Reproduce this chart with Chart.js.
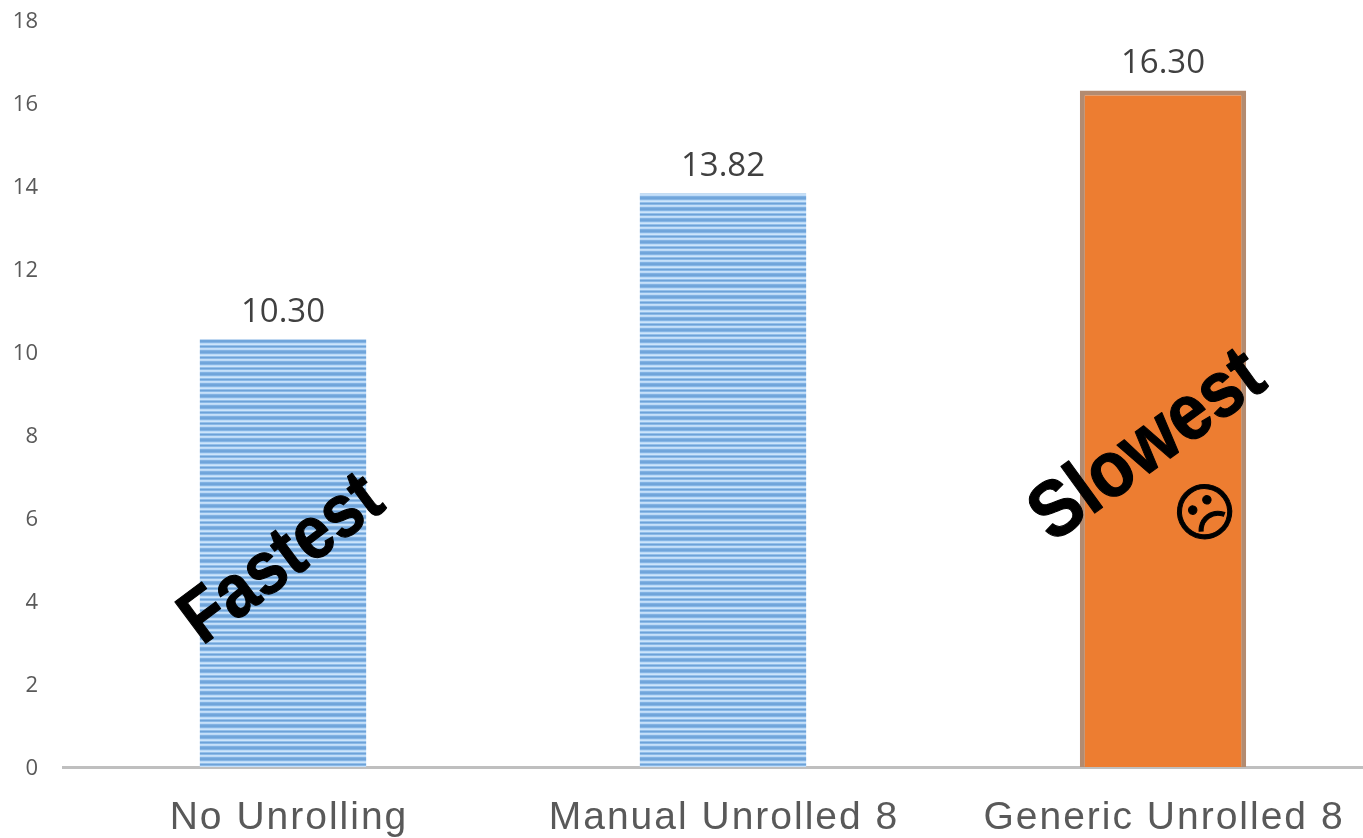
<!DOCTYPE html>
<html>
<head>
<meta charset="utf-8">
<title>Unrolling comparison</title>
<script src="https://cdn.jsdelivr.net/npm/chart.js@4"></script>
<style>
  html, body { margin: 0; padding: 0; background: #fff; overflow: hidden; }
  #wrap { width: 1400px; height: 838px; }
</style>
</head>
<body>
<div id="wrap"><canvas id="chart" width="1400" height="838"></canvas></div>
<script>
const categories = ['No Unrolling', 'Manual Unrolled 8', 'Generic Unrolled 8'];
const times = [10.30, 13.82, 16.30];
const valueLabels = ['10.30', '13.82', '16.30'];

// horizontal stripe fill for the two non-highlighted bars
function stripePattern() {
    const rows = ['#6fa4da', '#85b5e5', '#bbdaf7', '#cde5fb', '#93bfea',
                  '#6da2d8', '#8ab9e7', '#c6e0f9', '#bcdaf7', '#82b2e3', '#71a6db'];
    const tile = document.createElement('canvas');
    tile.width = 4;
    tile.height = rows.length;
    const c = tile.getContext('2d');
    rows.forEach(function(color, i) {
        c.fillStyle = color;
        c.fillRect(0, i, 4, 1);
    });
    return c.createPattern(tile, 'repeat');
}

const stripes = stripePattern();

// value labels, tracked-out category names and the rotated captions
const overlayText = {
    id: 'overlayText',
    afterDatasetsDraw: function(chart) {
        const ctx = chart.ctx;
        const bars = chart.getDatasetMeta(0).data;
        const xScale = chart.scales.x;

        ctx.save();
        ctx.font = '33px "Open Sans"';
        ctx.fillStyle = '#404040';
        ctx.textAlign = 'center';
        ctx.textBaseline = 'middle';
        bars.forEach(function(bar, i) {
            ctx.fillText(valueLabels[i], bar.x, bar.y - 27);
        });
        ctx.restore();

        ctx.save();
        ctx.font = '39px "Liberation Sans"';
        ctx.letterSpacing = '2px';
        ctx.fillStyle = '#595959';
        ctx.textAlign = 'center';
        ctx.textBaseline = 'alphabetic';
        categories.forEach(function(name, i) {
            const nudge = i === 0 ? 6 : 1;
            ctx.fillText(name, xScale.getPixelForValue(i) + nudge, 829);
        });
        ctx.restore();

        drawRotated(ctx, 'Fastest', 295, 577, -36.7, 'bold 66px "Liberation Sans"', 1.14);
        drawRotated(ctx, 'Slowest', 1161, 465, -36, 'bold 71px "Liberation Sans"', 1.12);

        // sad face tilted with the caption above it
        ctx.save();
        ctx.translate(1205, 512);
        ctx.rotate(-36 * Math.PI / 180);
        ctx.font = '62px "DejaVu Sans"';
        ctx.fillStyle = '#000';
        ctx.strokeStyle = '#000';
        ctx.lineWidth = 1;
        ctx.textAlign = 'center';
        ctx.textBaseline = 'middle';
        ctx.fillText('\u2639', 0, 6);
        ctx.strokeText('\u2639', 0, 6);
        ctx.restore();
    }
};

// captions are bold Arial-like text stretched a little along the glyph height
function drawRotated(ctx, text, x, y, degrees, font, stretch) {
    ctx.save();
    ctx.translate(x, y);
    ctx.rotate(degrees * Math.PI / 180);
    ctx.scale(1, stretch);
    ctx.font = font;
    ctx.fillStyle = '#000';
    ctx.strokeStyle = '#000';
    ctx.lineWidth = 1;
    ctx.lineJoin = 'round';
    ctx.textAlign = 'center';
    ctx.textBaseline = 'alphabetic';
    ctx.fillText(text, 0, 0);
    ctx.strokeText(text, 0, 0);
    ctx.restore();
}

new Chart(document.getElementById('chart'), {
    type: 'bar',
    data: {
        labels: categories,
        datasets: [{
            data: times,
            backgroundColor: [stripes, stripes, '#ed7d31'],
            borderColor: ['rgba(0,0,0,0)', 'rgba(0,0,0,0)', '#b38b70'],
            borderWidth: [0, 0, 5],
            categoryPercentage: 1,
            barPercentage: 0.378
        }]
    },
    plugins: [overlayText],
    options: {
        responsive: false,
        animation: false,
        layout: { padding: { top: 20, right: 17, left: 0, bottom: 0 } },
        plugins: {
            legend: { display: false },
            tooltip: { enabled: false }
        },
        scales: {
            x: {
                grid: { display: false, drawTicks: false },
                border: { display: true, color: '#bfbfbf', width: 3 },
                afterFit: function(scale) { scale.height = 71; },
                ticks: { display: false }
            },
            y: {
                min: 0,
                max: 18,
                // tick padding would otherwise also push the plot top down
                afterFit: function(scale) {
                    scale.width = 63;
                    scale.paddingTop = 0;
                    scale.paddingBottom = 0;
                },
                grid: { display: false, drawTicks: false },
                border: { display: false },
                ticks: {
                    stepSize: 2,
                    padding: 25,
                    labelOffset: 2,
                    color: '#595959',
                    font: { family: '"Open Sans"', size: 22 }
                }
            }
        }
    }
});
</script>
</body>
</html>
